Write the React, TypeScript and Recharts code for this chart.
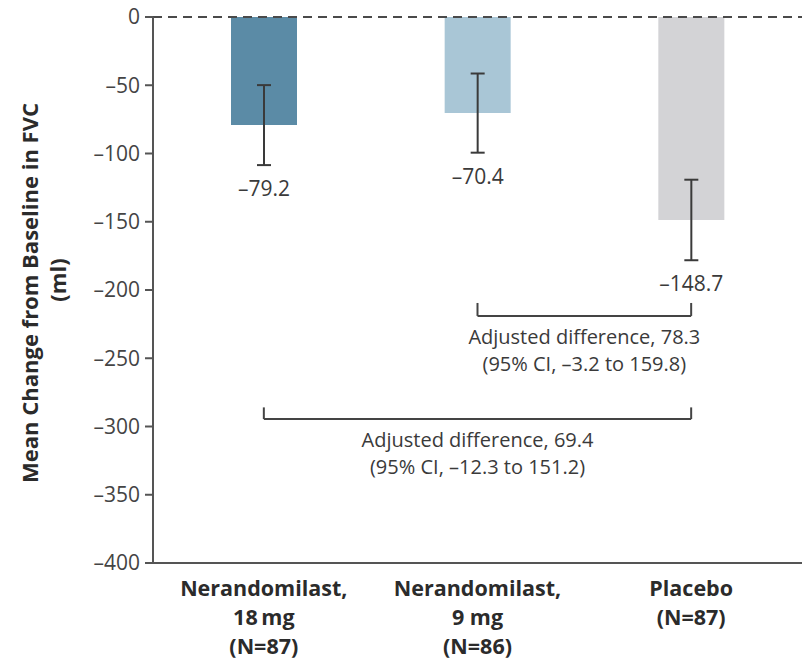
import { BarChart, Bar, XAxis, YAxis, ErrorBar, Cell, LabelList, ReferenceLine } from 'recharts';

const FONT = '"Open Sans", "DejaVu Sans", sans-serif';

// groups shown on the x axis
const groups = ['Nerandomilast, 18 mg', 'Nerandomilast, 9 mg', 'Placebo'];
const groupLabelLines = [
    ['Nerandomilast,', '18\u2009mg', '(N=87)'],
    ['Nerandomilast,', '9 mg', '(N=86)'],
    ['Placebo', '(N=87)'],
];

// mean change from baseline in FVC (ml) and half-width of the 95% CI
const meanChange = [-79.2, -70.4, -148.7];
const ciHalfWidth = [29.3, 29.0, 29.5];
const valueLabels = ['\u201379.2', '\u201370.4', '\u2013148.7'];

const barColors = ['#5b8ba6', '#a9c6d6', '#d3d3d6'];

const yTicks = [0, -50, -100, -150, -200, -250, -300, -350, -400];

// comparison brackets (levels in ml)
const bracketFrom = [groups[1], groups[0]];
const bracketTo = [groups[2], groups[2]];
const bracketLevel = [-219, -294.5];
const bracketTip = [-209.5, -286];
const bracketText = [
    ['Adjusted difference, 78.3', '(95% CI, \u20133.2 to 159.8)'],
    ['Adjusted difference, 69.4', '(95% CI, \u201312.3 to 151.2)'],
];

const data = groups.map((g, i) => ({ group: g, mean: meanChange[i], ci: ciHalfWidth[i] }));

const XTick = ({ x, y, payload }: any) => {
    const idx = groups.indexOf(payload.value);
    const lines = groupLabelLines[idx] || [payload.value];
    return (
        <g fontFamily={FONT} fontSize={21.5} fontWeight={700} fill="#2b2b2b">
            {lines.map((l, i) => (
                <text key={i} x={x} y={y + 33 + i * 29} textAnchor="middle">{l}</text>
            ))}
        </g>
    );
};

const YLabel = ({ viewBox }: any) => {
    const cy = viewBox.y + viewBox.height / 2;
    const x1 = viewBox.x + 38;
    const x2 = viewBox.x + 66;
    return (
        <g fontFamily={FONT} fontSize={22} fontWeight={700} fill="#2b2b2b">
            <text x={x1} y={cy + 3} textAnchor="middle" transform={`rotate(-90, ${x1}, ${cy + 3})`}>
                Mean Change from Baseline in FVC
            </text>
            <text x={x2} y={cy - 10} textAnchor="middle" transform={`rotate(-90, ${x2}, ${cy - 10})`}>
                (ml)
            </text>
        </g>
    );
};

const ValueLabel = (props: any) => {
    const vb = props.viewBox && props.viewBox.width !== undefined ? props.viewBox : props;
    const idx = props.index;
    const value = meanChange[idx];
    const top = Math.min(vb.y, vb.y + vb.height);
    const ppu = Math.abs(vb.height) / Math.abs(value);
    const errBottom = top + (Math.abs(value) + ciHalfWidth[idx]) * ppu;
    return (
        <text x={vb.x + vb.width / 2} y={errBottom + 23} textAnchor="middle" dominantBaseline="central"
            fontFamily={FONT} fontSize={21} fill="#3a3a3a">
            {valueLabels[idx]}
        </text>
    );
};

const bracketLabel = (i: number) => (props: any) => {
    const vb = props.viewBox;
    const cx = vb.x + vb.width / 2;
    return (
        <g fontFamily={FONT} fontSize={20} fill="#3a3a3a">
            <text x={cx} y={vb.y + 28} textAnchor="middle">{bracketText[i][0]}</text>
            <text x={cx} y={vb.y + 55} textAnchor="middle">{bracketText[i][1]}</text>
        </g>
    );
};

const App = () => {
    return (
        <div style={{ position: 'absolute', left: 0, top: 0 }}>
            <BarChart width={802} height={666} data={data} margin={{ top: 17, right: 0, bottom: 0, left: 0 }}>
                <XAxis dataKey="group" height={103} tick={<XTick />} tickLine={false} tickSize={0} tickMargin={0}
                    axisLine={{ stroke: '#555', strokeWidth: 2 }} padding={{ left: 4, right: 4 }} interval={0} />
                <YAxis width={153} domain={[-400, 0]} ticks={yTicks} interval={0}
                    tickFormatter={(v: number) => (v < 0 ? '\u2013' + Math.abs(v) : String(v))}
                    tick={{ fontFamily: FONT, fontSize: 21, fill: '#444' }}
                    tickLine={{ stroke: '#555', strokeWidth: 2 }} tickSize={8} tickMargin={5}
                    axisLine={{ stroke: '#555', strokeWidth: 2 }} label={<YLabel />} />
                <ReferenceLine y={0} stroke="#4a4a4a" strokeWidth={2} strokeDasharray="9 6" />
                <Bar dataKey="mean" barSize={66} isAnimationActive={false}>
                    {data.map((d, i) => (
                        <Cell key={d.group} fill={barColors[i]} />
                    ))}
                    <ErrorBar dataKey="ci" width={7} stroke="#3a3a3a" strokeWidth={2} isAnimationActive={false} />
                    <LabelList dataKey="mean" content={<ValueLabel />} />
                </Bar>
                {bracketLevel.map((lvl, i) => (
                    <ReferenceLine key={'h' + i} segment={[{ x: bracketFrom[i], y: lvl }, { x: bracketTo[i], y: lvl }]}
                        stroke="#444" strokeWidth={2} label={bracketLabel(i)} />
                ))}
                {bracketLevel.map((lvl, i) => (
                    <ReferenceLine key={'l' + i} segment={[{ x: bracketFrom[i], y: lvl }, { x: bracketFrom[i], y: bracketTip[i] }]}
                        stroke="#444" strokeWidth={2} />
                ))}
                {bracketLevel.map((lvl, i) => (
                    <ReferenceLine key={'r' + i} segment={[{ x: bracketTo[i], y: lvl }, { x: bracketTo[i], y: bracketTip[i] }]}
                        stroke="#444" strokeWidth={2} />
                ))}
            </BarChart>
        </div>
    );
};

export default App;
